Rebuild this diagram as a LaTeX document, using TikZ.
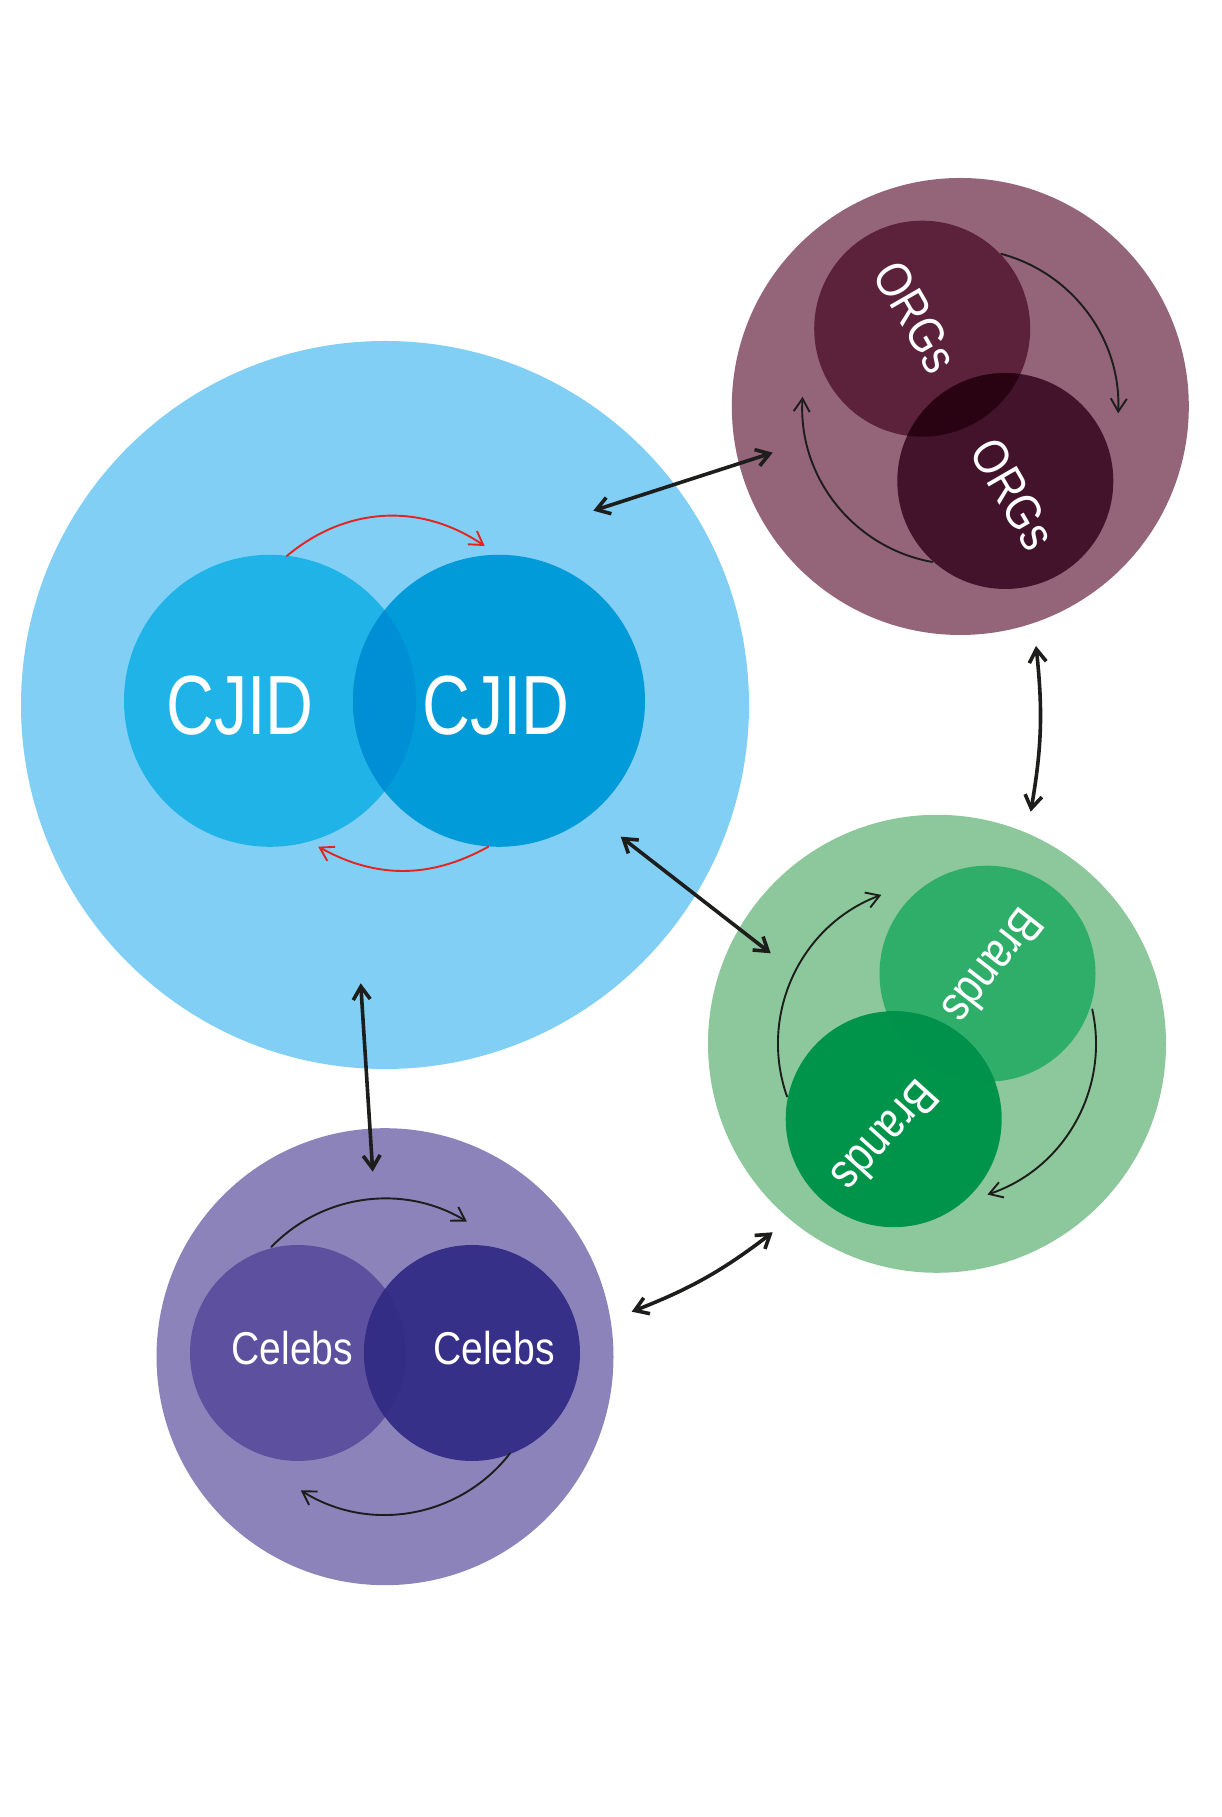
\documentclass[tikz,border=0pt]{standalone}
\usepackage{fontspec}
\setmainfont{Liberation Sans}
\newfontfamily\cjidfont[FakeStretch=0.79]{Liberation Sans}
\newfontfamily\lblfont[FakeStretch=0.85]{Liberation Sans}
\usetikzlibrary{arrows.meta}
\definecolor{ink}{HTML}{1D1D1B}
\definecolor{redarrow}{HTML}{E3241F}
\definecolor{bigblue}{HTML}{81CFF4}
\definecolor{cjidA}{HTML}{1FB3E8}
\definecolor{cjidB}{HTML}{009BD8}
\definecolor{cjidX}{HTML}{008FD4}
\definecolor{orgOut}{HTML}{946479}
\definecolor{orgA}{HTML}{5C213B}
\definecolor{orgB}{HTML}{42132B}
\definecolor{orgX}{HTML}{2A0313}
\definecolor{brOut}{HTML}{8DC89C}
\definecolor{brA}{HTML}{2FAE6A}
\definecolor{brB}{HTML}{00944A}
\definecolor{brX}{HTML}{00914A}
\definecolor{celOut}{HTML}{8C83BA}
\definecolor{celA}{HTML}{5D509E}
\definecolor{celB}{HTML}{373088}
\definecolor{celX}{HTML}{342D86}
\begin{document}
\begin{tikzpicture}[x=1pt,y=1pt,
  disc/.style={circle,inner sep=0pt,outer sep=0pt,draw=none,minimum size=2*#1},
  lbl/.style={text=white,inner sep=0pt,outer sep=0pt},
  bigarrow/.style={draw=ink,line width=3.6pt,line cap=round,line join=round,
    {Straight Barb[length=13pt,width=17pt]}-{Straight Barb[length=13pt,width=17pt]}},
  smallarrow/.style={draw=ink,line width=1.9pt,line cap=round,
    -{Straight Barb[length=13pt,width=16pt]}},
  redarrowstyle/.style={draw=redarrow,line width=1.9pt,line cap=round,
    -{Straight Barb[length=13pt,width=16pt]}}]
\fill[white] (0,0) rectangle (1221,1817);
\useasboundingbox (0,0) rectangle (1221,1817);

% ---------- CJID (blue) ----------
\node[disc=364,fill=bigblue] (blue) at (385,1112) {};
\node[disc=146,fill=cjidA] (cjidA) at (270,1116.2) {};
\node[disc=146,fill=cjidB] (cjidB) at (499,1116.2) {};
\begin{scope}
  \clip (cjidA.center) circle[radius=146];
  \fill[cjidX] (cjidB.center) circle[radius=146];
\end{scope}
\node[lbl,anchor=base] (cjidAt) at (240,1082) {\cjidfont\fontsize{84}{84}\selectfont CJID};
\node[lbl,anchor=base] (cjidBt) at (496,1082) {\cjidfont\fontsize{84}{84}\selectfont CJID};
\coordinate (r1s) at (286.8,1261);
\coordinate (r1e) at (484.7,1271);
\coordinate (r2s) at (488.4,970.3);
\coordinate (r2e) at (318.2,970.3);
\draw[redarrowstyle] (r1s) to[bend left=37] (r1e);
\draw[redarrowstyle] (r2s) to[bend left=29] (r2e);

% ---------- ORGs (purple) ----------
\node[disc=228.5,fill=orgOut] (org) at (960.3,1410.5) {};
\node[disc=108,fill=orgA] (orgA) at (922.2,1488.3) {};
\node[disc=108,fill=orgB] (orgB) at (1005.3,1336) {};
\begin{scope}
  \clip (orgA.center) circle[radius=108];
  \fill[orgX] (orgB.center) circle[radius=108];
\end{scope}
\node[lbl,rotate=-60] (orgAt) at (916,1500.3) {\lblfont\fontsize{50}{50}\selectfont ORGs};
\node[lbl,rotate=-60] (orgBt) at (1013.3,1323) {\lblfont\fontsize{50}{50}\selectfont ORGs};
\draw[smallarrow] ([shift={(75:158)}]org.center) arc[start angle=75,end angle=-2.5,radius=158];
\draw[smallarrow] ([shift={(259.8:158)}]org.center) arc[start angle=259.8,end angle=176.5,radius=158];

% ---------- Brands (green) ----------
\node[disc=229,fill=brOut] (brand) at (937,773.2) {};
\node[disc=108,fill=brA] (brA) at (987.5,843.3) {};
\node[disc=108,fill=brB] (brB) at (893.7,697.8) {};
\begin{scope}
  \clip (brA.center) circle[radius=108];
  \fill[brX] (brB.center) circle[radius=108];
\end{scope}
\node[lbl,rotate=-128] (brAt) at (994,850) {\lblfont\fontsize{49}{49}\selectfont Brands};
\node[lbl,rotate=-132] (brBt) at (886,680) {\lblfont\fontsize{49}{49}\selectfont Brands};
\draw[smallarrow] ([shift={(199.4:159)}]brand.center) arc[start angle=199.4,end angle=110.5,radius=159];
\draw[smallarrow] ([shift={(12.5:159)}]brand.center) arc[start angle=12.5,end angle=-71.5,radius=159];

% ---------- Celebs (violet) ----------
\node[disc=228.5,fill=celOut] (cel) at (385,460.3) {};
\node[disc=108,fill=celA] (celA) at (298,464) {};
\node[disc=108,fill=celB] (celB) at (472,464) {};
\begin{scope}
  \clip (celA.center) circle[radius=108];
  \fill[celX] (celB.center) circle[radius=108];
\end{scope}
\node[lbl,anchor=base] (celAt) at (292.3,452) {\lblfont\fontsize{46}{46}\selectfont Celebs};
\node[lbl,anchor=base] (celBt) at (494,452) {\lblfont\fontsize{46}{46}\selectfont Celebs};
\draw[smallarrow] ([shift={(136:158)}]cel.center) arc[start angle=136,end angle=58.8,radius=158];
\draw[smallarrow] ([shift={(-37.7:158)}]cel.center) arc[start angle=-37.7,end angle=-122.2,radius=158];

% ---------- connectors between groups ----------
\coordinate (a1s) at (593.3,1306.3);
\coordinate (a1e) at (772.7,1364.3);
\coordinate (a2s) at (1036,1171);
\coordinate (a2e) at (1030.7,1005.3);
\coordinate (a3s) at (620.7,980.3);
\coordinate (a3e) at (770.7,863.7);
\coordinate (a4s) at (360.7,833.7);
\coordinate (a4e) at (372.7,645.3);
\coordinate (a5s) at (631.7,505.3);
\coordinate (a5e) at (772.7,584.7);
\draw[bigarrow] (a1s) -- (a1e);
\draw[bigarrow] (a2s) to[bend left=8] (a2e);
\draw[bigarrow] (a3s) -- (a3e);
\draw[bigarrow] (a4s) -- (a4e);
\draw[bigarrow] (a5s) to[bend right=8] (a5e);
\end{tikzpicture}
\end{document}
